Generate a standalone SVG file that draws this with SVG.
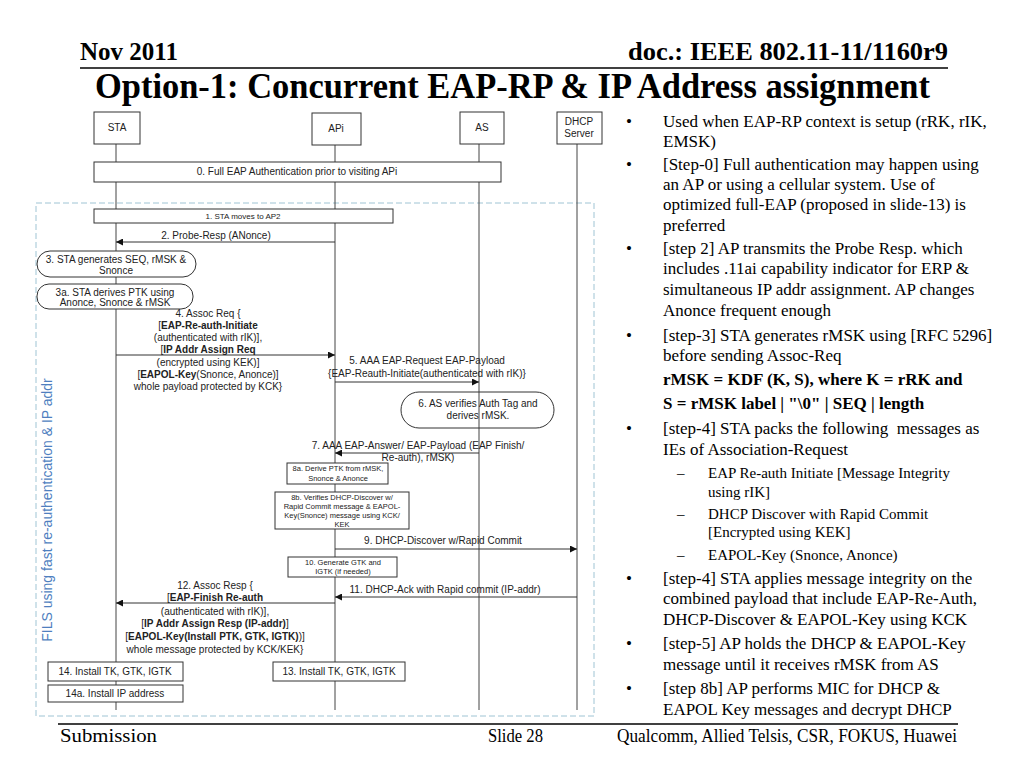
<svg xmlns="http://www.w3.org/2000/svg" width="1024" height="768" viewBox="0 0 1024 768">
<defs>
<style>
.bg{fill:#ffffff}
.box{fill:#ffffff;stroke:#333333;stroke-width:1}
.boxn{fill:none;stroke:#333333;stroke-width:1}
.life{stroke:#444444;stroke-width:1}
.msg{stroke:#333333;stroke-width:1;fill:none}
.d{font-family:"Liberation Sans",Arial,sans-serif;fill:#222222}
.c{text-anchor:middle}
.f10{font-size:10px}
.f8{font-size:8px}
.f75{font-size:7.5px}
.b{font-weight:bold}
.t{font-family:"Liberation Serif","Times New Roman",serif;fill:#000000}
.tb{font-family:"Liberation Serif","Times New Roman",serif;fill:#000000;font-weight:bold}
.r17{font-size:17px}
.r15{font-size:15px}
</style>
<marker id="ah" viewBox="0 0 10 10" refX="10" refY="5" markerWidth="9" markerHeight="7" markerUnits="userSpaceOnUse" orient="auto">
<path d="M0,0 L10,5 L0,10 z" fill="#111111"/>
</marker>
</defs>
<rect class="bg" x="0" y="0" width="1024" height="768"/>

<g id="header">
<text class="tb" x="80" y="60" font-size="26" textLength="98" lengthAdjust="spacingAndGlyphs">Nov 2011</text>
<text class="tb" x="628" y="60" font-size="26" textLength="320" lengthAdjust="spacingAndGlyphs">doc.: IEEE 802.11-11/1160r9</text>
<line x1="80" y1="68" x2="948" y2="68" stroke="#000" stroke-width="1.5"/>
<text class="tb" x="95" y="98" font-size="35" textLength="835" lengthAdjust="spacingAndGlyphs">Option-1: Concurrent EAP-RP &amp; IP Address assignment</text>
</g>

<g id="fils-region">
<rect x="36" y="203" width="558" height="513" fill="none" stroke="#9fc4d4" stroke-width="1" stroke-dasharray="6,3"/>
<text x="52" y="510" transform="rotate(-90 52 510)" text-anchor="middle" font-family="'Liberation Sans',Arial,sans-serif" font-size="14" fill="#4f7fbf">FILS using fast re-authentication &amp; IP addr</text>
</g>

<g id="lifelines">
<line class="life" x1="116" y1="144" x2="116" y2="710"/>
<line class="life" x1="335" y1="145" x2="335" y2="710"/>
<line class="life" x1="479" y1="144" x2="479" y2="710"/>
<line class="life" x1="577" y1="144" x2="577" y2="710"/>
</g>

<g id="sta">
<rect class="box" x="94" y="112" width="46" height="32"/>
<text class="d c f10" x="117" y="131">STA</text>
</g>
<g id="api">
<rect class="box" x="312" y="113" width="49" height="32"/>
<text class="d c f10" x="336" y="132">APi</text>
</g>
<g id="as">
<rect class="box" x="460" y="112" width="44" height="32"/>
<text class="d c f10" x="482" y="131">AS</text>
</g>
<g id="dhcp">
<rect class="box" x="557" y="112" width="45" height="32"/>
<text class="d c f10" x="579" y="125">DHCP</text>
<text class="d c f10" x="579" y="137">Server</text>
</g>

<g id="step0">
<rect class="box" x="94" y="162" width="407" height="20"/>
<text class="d c f10" x="297" y="175">0. Full EAP Authentication prior to visiting APi</text>
</g>
<g id="step1">
<rect class="box" x="94" y="209" width="299" height="14"/>
<text class="d c f8" x="243" y="219">1. STA moves to AP2</text>
</g>
<g id="step3">
<rect class="box" x="37" y="251" width="159" height="26" rx="13" ry="13"/>
<text class="d c f10" x="116" y="263">3. STA generates SEQ, rMSK &amp;</text>
<text class="d c f10" x="116" y="274">Snonce</text>
</g>
<g id="step3a">
<rect class="box" x="37" y="284" width="156" height="25" rx="12" ry="12"/>
<text class="d c f10" x="115" y="296">3a. STA derives PTK using</text>
<text class="d c f10" x="115" y="306">Anonce, Snonce &amp; rMSK</text>
</g>
<g id="step6">
<rect class="boxn" x="401" y="392" width="153" height="36" rx="18" ry="18"/>
<text class="d c f10" x="478" y="407">6. AS verifies Auth Tag and</text>
<text class="d c f10" x="478" y="419">derives rMSK.</text>
</g>
<g id="step8a">
<rect class="box" x="287" y="463" width="101" height="21"/>
<text class="d c f75" x="338" y="471">8a. Derive PTK from rMSK,</text>
<text class="d c f75" x="338" y="481">Snonce &amp; Anonce</text>
</g>
<g id="step8b">
<rect class="box" x="275" y="492" width="134" height="37"/>
<text class="d c f75" x="342" y="500">8b. Verifies DHCP-Discover w/</text>
<text class="d c f75" x="342" y="509">Rapid Commit message &amp; EAPOL-</text>
<text class="d c f75" x="342" y="518">Key(Snonce) message using KCK/</text>
<text class="d c f75" x="342" y="527">KEK</text>
</g>
<g id="step10">
<rect class="box" x="288" y="557" width="109" height="20"/>
<text class="d c f75" x="343" y="565">10. Generate GTK and</text>
<text class="d c f75" x="343" y="574">IGTK (if needed)</text>
</g>
<g id="step14">
<rect class="box" x="48" y="662" width="135" height="19"/>
<text class="d c f10" x="115" y="675">14. Install TK, GTK, IGTK</text>
</g>
<g id="step14a">
<rect class="box" x="48" y="685" width="135" height="17"/>
<text class="d c f10" x="115" y="697">14a. Install IP address</text>
</g>
<g id="step13">
<rect class="box" x="273" y="662" width="132" height="19"/>
<text class="d c f10" x="339" y="675">13. Install TK, GTK, IGTK</text>
</g>

<g id="connectors">
<line class="msg" x1="335" y1="242" x2="116" y2="242" marker-end="url(#ah)"/>
<line class="msg" x1="116" y1="355" x2="335" y2="355" marker-end="url(#ah)"/>
<line class="msg" x1="335" y1="382" x2="479" y2="382" marker-end="url(#ah)"/>
<line class="msg" x1="479" y1="453" x2="335" y2="453" marker-end="url(#ah)"/>
<line class="msg" x1="335" y1="549" x2="577" y2="549" marker-end="url(#ah)"/>
<line class="msg" x1="577" y1="597" x2="335" y2="597" marker-end="url(#ah)"/>
<line class="msg" x1="335" y1="603" x2="116" y2="603" marker-end="url(#ah)"/>
</g>

<g id="connector-labels">
<text class="d c f10" x="216" y="239">2. Probe-Resp (ANonce)</text>
<text class="d c f10" x="208" y="317">4. Assoc Req {</text>
<text class="d c f10" x="208" y="329">[<tspan class="b">EAP-Re-auth-Initiate</tspan></text>
<text class="d c f10" x="208" y="341">(authenticated with rIK)],</text>
<text class="d c f10" x="208" y="353">[<tspan class="b">IP Addr Assign Req</tspan></text>
<text class="d c f10" x="208" y="366">(encrypted using KEK)]</text>
<text class="d c f10" x="208" y="378">[<tspan class="b">EAPOL-Key</tspan>(Snonce, Anonce)]</text>
<text class="d c f10" x="208" y="390">whole payload protected by KCK}</text>
<text class="d c f10" x="427" y="364">5. AAA EAP-Request EAP-Payload</text>
<text class="d c f10" x="427" y="377">{EAP-Reauth-Initiate(authenticated with rIK)}</text>
<text class="d c f10" x="418" y="449">7. AAA EAP-Answer/ EAP-Payload (EAP Finish/</text>
<text class="d c f10" x="418" y="461">Re-auth), rMSK)</text>
<text class="d c f10" x="443" y="544">9. DHCP-Discover w/Rapid Commit</text>
<text class="d c f10" x="445" y="593">11. DHCP-Ack with Rapid commit (IP-addr)</text>
<text class="d c f10" x="215" y="589">12. Assoc Resp {</text>
<text class="d c f10" x="215" y="601">[<tspan class="b">EAP-Finish Re-auth</tspan></text>
<text class="d c f10" x="215" y="615">(authenticated with rIK)],</text>
<text class="d c f10" x="215" y="627">[<tspan class="b">IP Addr Assign Resp (IP-addr)</tspan>]</text>
<text class="d c f10" x="215" y="640">[<tspan class="b">EAPOL-Key(Install PTK, GTK, IGTK)</tspan>)]</text>
<text class="d c f10" x="215" y="653">whole message protected by KCK/KEK}</text>
</g>

<g id="bullets">
<text class="t r17" x="626" y="127">•</text>
<text class="t r17" x="663" y="127">Used when EAP-RP context is setup (rRK, rIK,</text>
<text class="t r17" x="663" y="147">EMSK)</text>
<text class="t r17" x="626" y="170">•</text>
<text class="t r17" x="663" y="170">[Step-0] Full authentication may happen using</text>
<text class="t r17" x="663" y="190">an AP or using a cellular system. Use of</text>
<text class="t r17" x="663" y="210">optimized full-EAP (proposed in slide-13) is</text>
<text class="t r17" x="663" y="231">preferred</text>
<text class="t r17" x="626" y="254">•</text>
<text class="t r17" x="663" y="254">[step 2] AP transmits the Probe Resp. which</text>
<text class="t r17" x="663" y="274">includes .11ai capability indicator for ERP &amp;</text>
<text class="t r17" x="663" y="295">simultaneous IP addr assignment. AP changes</text>
<text class="t r17" x="663" y="316">Anonce frequent enough</text>
<text class="t r17" x="626" y="341">•</text>
<text class="t r17" x="663" y="341">[step-3] STA generates rMSK using [RFC 5296]</text>
<text class="t r17" x="663" y="361">before sending Assoc-Req</text>
<text class="tb r17" x="663" y="385">rMSK = KDF (K, S), where K = rRK and</text>
<text class="tb r17" x="663" y="409">S = rMSK label | "\0" | SEQ | length</text>
<text class="t r17" x="626" y="434">•</text>
<text class="t r17" x="663" y="434" xml:space="preserve">[step-4] STA packs the following  messages as</text>
<text class="t r17" x="663" y="455">IEs of Association-Request</text>
<text class="t r15" x="677" y="478">–</text>
<text class="t r15" x="708" y="478">EAP Re-auth Initiate [Message Integrity</text>
<text class="t r15" x="708" y="497">using rIK]</text>
<text class="t r15" x="677" y="519">–</text>
<text class="t r15" x="708" y="519">DHCP Discover with Rapid Commit</text>
<text class="t r15" x="708" y="537">[Encrypted using KEK]</text>
<text class="t r15" x="677" y="560">–</text>
<text class="t r15" x="708" y="560">EAPOL-Key (Snonce, Anonce)</text>
<text class="t r17" x="626" y="584">•</text>
<text class="t r17" x="663" y="584">[step-4] STA applies message integrity on the</text>
<text class="t r17" x="663" y="604">combined payload that include EAP-Re-Auth,</text>
<text class="t r17" x="663" y="625">DHCP-Discover &amp; EAPOL-Key using KCK</text>
<text class="t r17" x="626" y="649">•</text>
<text class="t r17" x="663" y="649">[step-5] AP holds the DHCP &amp; EAPOL-Key</text>
<text class="t r17" x="663" y="670">message until it receives rMSK from AS</text>
<text class="t r17" x="626" y="694">•</text>
<text class="t r17" x="663" y="694">[step 8b] AP performs MIC for DHCP &amp;</text>
<text class="t r17" x="663" y="715">EAPOL Key messages and decrypt DHCP</text>
</g>

<g id="footer">
<line x1="58" y1="724" x2="958" y2="724" stroke="#000" stroke-width="1.5"/>
<text class="t" x="60" y="742" font-size="18" textLength="97" lengthAdjust="spacingAndGlyphs">Submission</text>
<text class="t" x="488" y="742" font-size="18" textLength="55" lengthAdjust="spacingAndGlyphs">Slide 28</text>
<text class="t" x="617" y="742" font-size="18" textLength="340" lengthAdjust="spacingAndGlyphs">Qualcomm, Allied Telsis, CSR, FOKUS, Huawei</text>
</g>
</svg>
